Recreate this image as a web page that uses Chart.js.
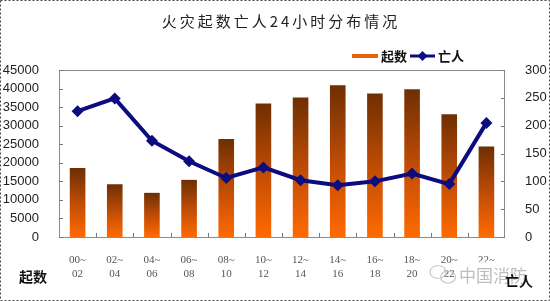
<!DOCTYPE html>
<html>
<head>
<meta charset="utf-8">
<script src="https://cdn.jsdelivr.net/npm/chart.js@4"></script>
<style>
  body { margin: 0; background: #fff; }
  #wrap { position: relative; width: 550px; height: 301px; }
</style>
</head>
<body>
<div id="wrap"><canvas id="fireChart" width="550" height="301"></canvas></div>
<script>
// data
const periods = [['00~', '02'], ['02~', '04'], ['04~', '06'], ['06~', '08'], ['08~', '10'], ['10~', '12'],
                 ['12~', '14'], ['14~', '16'], ['16~', '18'], ['18~', '20'], ['20~', '22'], ['22~', '24']];
const fireCounts = [18600, 14200, 11900, 15400, 26400, 36000, 37600, 40900, 38700, 39800, 33100, 24400];
const deaths = [226, 249, 173, 136, 106, 125, 102, 93, 100, 114, 95, 205];
const countTicks = [0, 5000, 10000, 15000, 20000, 25000, 30000, 35000, 40000, 45000];
const deathTicks = [0, 50, 100, 150, 200, 250, 300];

const cjk = '"Noto Sans CJK SC", sans-serif';

// one vertical gradient per bar, from its top down to the axis
function barGradient(context) {
    const chart = context.chart;
    const y = chart.scales.y;
    if (!y || context.raw == null) return '#c54e05';
    const top = y.getPixelForValue(context.raw);
    const bottom = y.getPixelForValue(0);
    if (!isFinite(top) || !isFinite(bottom) || top === bottom) return '#c54e05';
    const g = chart.ctx.createLinearGradient(0, top, 0, bottom);
    g.addColorStop(0, '#6e2f02');
    g.addColorStop(0.55, '#c54e05');
    g.addColorStop(1, '#ff6a00');
    return g;
}

const decorations = {
    id: 'decorations',
    afterDraw(chart) {
        const ctx = chart.ctx;
        const area = chart.chartArea;
        ctx.save();

        // plot frame
        ctx.strokeStyle = '#8c8c8c';
        ctx.lineWidth = 1;
        ctx.strokeRect(area.left + 0.5, area.top + 0.5, area.right - area.left - 1, area.bottom - area.top);

        // inner tick marks
        ctx.strokeStyle = '#777';
        ctx.beginPath();
        chart.scales.y.ticks.forEach((t, i) => {
            const py = Math.round(chart.scales.y.getPixelForTick(i)) + 0.5;
            ctx.moveTo(area.left, py); ctx.lineTo(area.left + 4, py);
        });
        chart.scales.y1.ticks.forEach((t, i) => {
            const py = Math.round(chart.scales.y1.getPixelForTick(i)) + 0.5;
            ctx.moveTo(area.right - 4, py); ctx.lineTo(area.right, py);
        });
        const x = chart.scales.x;
        const step = x.getPixelForValue(1) - x.getPixelForValue(0);
        for (let i = 1; i < periods.length; i++) {
            const px = Math.round(x.getPixelForValue(i) - step / 2) + 0.5;
            ctx.moveTo(px, area.bottom); ctx.lineTo(px, area.bottom - 4);
        }
        ctx.stroke();

        // title
        ctx.fillStyle = '#222';
        ctx.font = '15px ' + cjk;
        ctx.textAlign = 'center';
        ctx.textBaseline = 'middle';
        if ('letterSpacing' in ctx) ctx.letterSpacing = '3px';
        ctx.fillText('火灾起数亡人24小时分布情况', 281, 21);
        if ('letterSpacing' in ctx) ctx.letterSpacing = '0px';

        // legend
        ctx.fillStyle = '#e8600a';
        ctx.fillRect(352, 54, 26, 4);
        ctx.strokeStyle = '#0c0c80';
        ctx.lineWidth = 3;
        ctx.beginPath();
        ctx.moveTo(410, 56); ctx.lineTo(435, 56);
        ctx.stroke();
        ctx.fillStyle = '#0c0c80';
        ctx.beginPath();
        ctx.moveTo(422.5, 51); ctx.lineTo(427.5, 56); ctx.lineTo(422.5, 61); ctx.lineTo(417.5, 56);
        ctx.closePath(); ctx.fill();
        ctx.fillStyle = '#111';
        ctx.font = 'bold 13px ' + cjk;
        ctx.textAlign = 'left';
        ctx.fillText('起数', 381, 56);
        ctx.fillText('亡人', 438, 56);

        // watermark
        ctx.strokeStyle = '#c8c8c8';
        ctx.lineWidth = 1.2;
        ctx.beginPath();
        ctx.ellipse(438, 272, 8, 6.5, 0, 0, Math.PI * 2);
        ctx.stroke();
        ctx.beginPath();
        ctx.ellipse(448, 277, 7.5, 6, 0, 0, Math.PI * 2);
        ctx.stroke();
        ctx.fillStyle = 'rgba(255,255,255,0.9)';
        ctx.fillRect(458, 262, 50, 26);
        ctx.fillStyle = '#bdbdbd';
        ctx.font = '17px ' + cjk;
        ctx.fillText('中国消防', 459, 276);

        // axis captions
        ctx.fillStyle = '#111';
        ctx.font = 'bold 14px ' + cjk;
        ctx.fillText('起数', 19, 277);
        ctx.fillText('亡人', 505, 281);

        // dashed outer border
        ctx.strokeStyle = '#444';
        ctx.lineWidth = 1;
        ctx.setLineDash([2, 2]);
        ctx.strokeRect(0.5, 0.5, chart.width - 1, chart.height - 1);
        ctx.restore();
    }
};

document.addEventListener('DOMContentLoaded', function() {
    const ctx = document.getElementById('fireChart').getContext('2d');
    new Chart(ctx, {
        data: {
            labels: periods,
            datasets: [{
                type: 'line',
                label: '亡人',
                data: deaths,
                yAxisID: 'y1',
                borderColor: '#0c0c80',
                backgroundColor: '#0c0c80',
                borderWidth: 4,
                pointStyle: 'rectRot',
                pointRadius: 6,
                pointBorderWidth: 0,
                tension: 0,
                order: 1
            }, {
                type: 'bar',
                label: '起数',
                data: fireCounts,
                yAxisID: 'y',
                backgroundColor: barGradient,
                barPercentage: 0.42,
                categoryPercentage: 1,
                order: 2
            }]
        },
        options: {
            responsive: false,
            animation: false,
            layout: { padding: { top: 70, left: 0, right: 0, bottom: 0 } },
            plugins: {
                legend: { display: false },
                title: { display: false },
                tooltip: { enabled: false }
            },
            scales: {
                x: {
                    grid: { display: false },
                    border: { display: false },
                    ticks: {
                        color: '#555',
                        font: { family: '"Liberation Serif", serif', size: 11 },
                        padding: 9,
                        maxRotation: 0,
                        autoSkip: false
                    },
                    afterFit(scale) { scale.height = 64; }
                },
                y: {
                    position: 'left',
                    min: 0,
                    max: 45000,
                    afterBuildTicks(scale) { scale.ticks = countTicks.map(v => ({ value: v })); },
                    grid: { display: false },
                    border: { display: false },
                    ticks: {
                        color: '#222',
                        autoSkip: false,
                        font: { family: '"Liberation Sans", Arial, sans-serif', size: 13 },
                        padding: 12,
                        callback: v => String(v)
                    },
                    afterFit(scale) { scale.width = 59; }
                },
                y1: {
                    position: 'right',
                    min: 0,
                    max: 300,
                    afterBuildTicks(scale) { scale.ticks = deathTicks.map(v => ({ value: v })); },
                    grid: { display: false },
                    border: { display: false },
                    ticks: {
                        color: '#222',
                        autoSkip: false,
                        font: { family: '"Liberation Sans", Arial, sans-serif', size: 13 },
                        padding: 12,
                        callback: v => String(v)
                    },
                    afterFit(scale) { scale.width = 45; }
                }
            }
        },
        plugins: [decorations]
    });
});
</script>
</body>
</html>
